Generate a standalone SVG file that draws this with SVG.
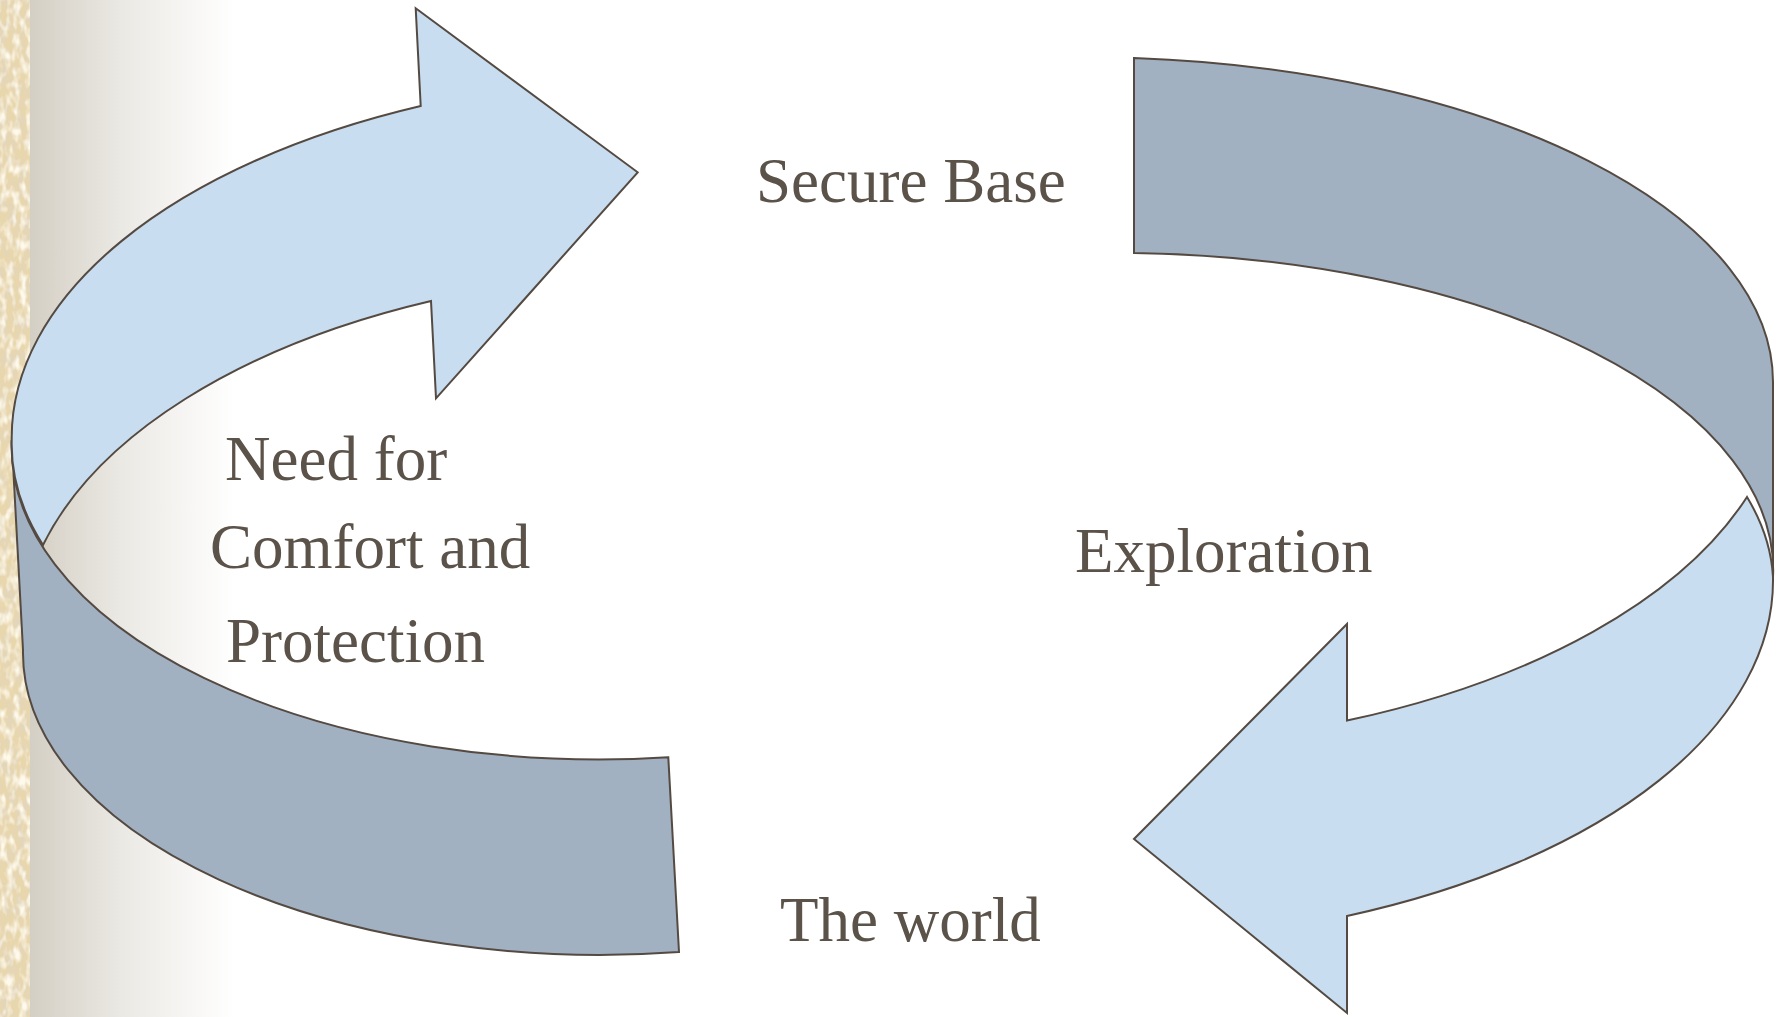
<svg xmlns="http://www.w3.org/2000/svg" width="1785" height="1017" viewBox="0 0 1785 1017">
  <defs>
    <linearGradient id="shade" x1="30" y1="0" x2="235" y2="0" gradientUnits="userSpaceOnUse">
      <stop offset="0" stop-color="#d4cfc4"/>
      <stop offset="0.45" stop-color="#ebe9e4"/>
      <stop offset="1" stop-color="#ffffff"/>
    </linearGradient>
    <filter id="paper" x="0" y="0" width="30" height="1017" filterUnits="userSpaceOnUse">
      <feTurbulence type="fractalNoise" baseFrequency="0.12 0.06" numOctaves="3" seed="7" result="n"/>
      <feColorMatrix in="n" type="matrix" values="0 0 0 0 0.76  0 0 0 0 0.67  0 0 0 0 0.50  3 0 0 0 -1.25" result="d"/>
      <feTurbulence type="fractalNoise" baseFrequency="0.15 0.08" numOctaves="2" seed="19" result="m"/>
      <feColorMatrix in="m" type="matrix" values="0 0 0 0 0.99  0 0 0 0 0.95  0 0 0 0 0.84  3 0 0 0 -1.3" result="l"/>
      <feMerge><feMergeNode in="d"/><feMergeNode in="l"/></feMerge>
    </filter>
    <style>
      .lite { fill: #c8ddf0; stroke: #544a42; stroke-width: 2; stroke-linejoin: miter; }
      .dark { fill: #a2b1c2; stroke: #544a42; stroke-width: 2; stroke-linejoin: miter; }
      .lbl { font-family: "Liberation Serif", "Times New Roman", serif; font-size: 63px; fill: #5b5249; }
    </style>
  </defs>

  <!-- background -->
  <rect x="0" y="0" width="1785" height="1017" fill="#ffffff"/>
  <rect x="30" y="0" width="205" height="1017" fill="url(#shade)"/>
  <rect x="0" y="0" width="30" height="1017" fill="#e8d6ad"/>
  <rect x="0" y="0" width="30" height="1017" fill="#e8d6ad" filter="url(#paper)"/>

  <g id="connectors">
    <g id="band-left">
      <path class="dark" d="M 11.7,440 A 588 313 0 0 0 668.3,757.3 L 679,952 A 577 302 0 0 1 23,650 Z"/>
    </g>
    <g id="arrow-left">
      <path class="lite" d="M 11.7,440 A 688.5 363 0 0 1 420.7,106 L 415.7,8.3 L 637.7,172.3 L 436,398.3 L 431,301 A 680 370 0 0 0 43,545 A 588 313 0 0 1 11.7,440 Z"/>
    </g>
    <g id="band-right">
      <path class="dark" d="M 1134,58 A 690 325 0 0 1 1773,383 L 1773,577 A 659 317 0 0 0 1134,253 Z"/>
    </g>
    <g id="arrow-right">
      <path class="lite" d="M 1773,577 A 688.5 363 0 0 1 1347,916 L 1347,1013 L 1134,839 L 1347,624 L 1347,720.6 A 700 371 0 0 0 1747,497 A 659 317 0 0 1 1773,577 Z"/>
    </g>
  </g>

  <g id="node-secure-base">
    <text class="lbl" x="756" y="202">Secure Base</text>
  </g>
  <g id="node-need">
    <text class="lbl" x="225" y="480">Need for</text>
    <text class="lbl" x="210" y="568">Comfort and</text>
    <text class="lbl" x="226" y="662">Protection</text>
  </g>
  <g id="node-exploration">
    <text class="lbl" x="1075" y="572">Exploration</text>
  </g>
  <g id="node-world">
    <text class="lbl" x="780" y="941">The world</text>
  </g>
</svg>
